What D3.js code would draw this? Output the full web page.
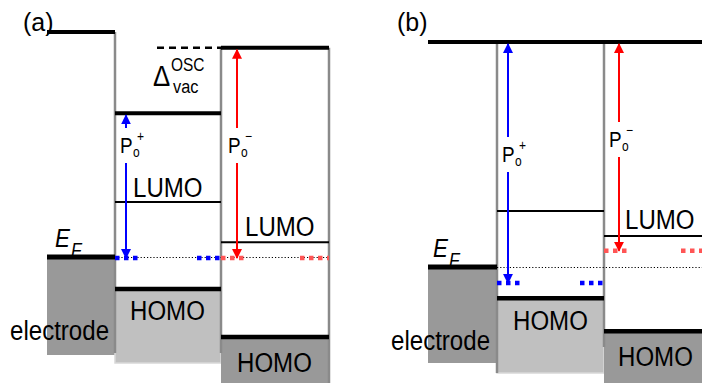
<!DOCTYPE html>
<html>
<head>
<meta charset="utf-8">
<script src="https://cdn.jsdelivr.net/npm/d3@7"></script>
<style>
  body { margin: 0; background: #fff; }
  svg text { font-family: "Liberation Sans", Arial, sans-serif; fill: #000; }
</style>
</head>
<body>
<div id="chart"></div>
<script>
// energy levels in eV, relative to the Fermi level of the electrode
// columns: electrode, organic layer 1, organic layer 2
var panelNames = ["(a)", "(b)"];
var vacA  = [5.0, 3.2, 4.65];
var lumoA = [null, 1.24, 0.35];
var homoA = [0, -0.71, -1.77];   // electrode entry = Fermi level
var pinA  = [0, 0];              // P+ (layer 1), P- (layer 2)
var vacB  = [5.0, 5.0, 5.0];
var lumoB = [null, 1.26, 0.71];
var homoB = [0, -0.69, -1.42];
var pinB  = [-0.33, 0.38];
var lumoLabelA = [false, true, true];
var lumoLabelB = [false, false, true];

var width = 702, height = 383;

var svg = d3.select("#chart").append("svg")
    .attr("width", width)
    .attr("height", height);

var defs = svg.append("defs");
[["blue", "#0000ff"], ["red", "#ff0000"]].forEach(function(c) {
  defs.append("marker")
      .attr("id", "head-" + c[0])
      .attr("viewBox", "0 0 10 10")
      .attr("refX", 9).attr("refY", 5)
      .attr("markerWidth", 5).attr("markerHeight", 5)
      .attr("orient", "auto-start-reverse")
      .attr("markerUnits", "strokeWidth")
    .append("path")
      .attr("d", "M0,0 L10,5 L0,10 Z")
      .attr("fill", c[1]);
});

// layout of the two panels
var panels = [
  { name: panelNames[0], vac: vacA, lumo: lumoA, homo: homoA, pin: pinA, lumoLabel: lumoLabelA,
    y: d3.scaleLinear().domain([0, 5]).range([258, 32]),
    cols: [47, 115, 221, 329], title: [23, 31],
    elecBottom: 355, lightBottom: 363, wallBottom: [353, 353, 383],
    arrowX: [126, 237], pLabel: [[120, 153], [228, 153]],
    efLabel: [55, 247], elecLabel: [10, 340],
    lumoText: [null, [133, 197], [245, 236]], homoText: [null, [130, 320], [237, 372]],
    dashed: [157, 221] },
  { name: panelNames[1], vac: vacB, lumo: lumoB, homo: homoB, pin: pinB, lumoLabel: lumoLabelB,
    y: d3.scaleLinear().domain([0, 5]).range([268, 42]),
    cols: [428, 497, 604, 712], title: [397, 31],
    elecBottom: 363, lightBottom: 373, wallBottom: [373, 347, 383],
    arrowX: [508, 619], pLabel: [[502, 162], [609, 147]],
    efLabel: [433, 257], elecLabel: [391, 350],
    lumoText: [null, null, [625, 229]], homoText: [null, [513, 330], [618, 366]],
    dashed: null }
];

function label(g, x, y, txt, size, italic, sx) {
  return g.append("text")
      .attr("transform", "translate(" + x + "," + y + ") scale(" + (sx || 0.86) + ",1)")
      .style("font-size", size + "px")
      .style("font-style", italic ? "italic" : "normal")
      .text(txt);
}

panels.forEach(function(p) {
  var g = svg.append("g");
  var y = p.y, c = p.cols;

  // filled blocks: electrode, occupied HOMO of layer 1 and layer 2
  g.append("rect").attr("x", c[0]).attr("y", y(p.homo[0]))
      .attr("width", c[1] - c[0]).attr("height", p.elecBottom - y(p.homo[0]))
      .attr("fill", "#999999");
  g.append("rect").attr("x", c[1]).attr("y", y(p.homo[1]))
      .attr("width", c[2] - c[1]).attr("height", p.lightBottom - y(p.homo[1]))
      .attr("fill", "#c0c0c0").attr("stroke", "#d8d8d8").attr("stroke-width", 1.5);
  g.append("rect").attr("x", c[2]).attr("y", y(p.homo[2]))
      .attr("width", c[3] - c[2]).attr("height", height - y(p.homo[2]))
      .attr("fill", "#999999");

  // column walls
  [1, 2, 3].forEach(function(i) {
    var top = y(p.vac[i - 1]);
    if (i === 2) top = Math.min(y(p.vac[1]), y(p.vac[2]));
    g.append("line")
        .attr("x1", c[i]).attr("x2", c[i])
        .attr("y1", top).attr("y2", p.wallBottom[i - 1])
        .attr("stroke", "#8a8a8a").attr("stroke-width", 2.5);
  });

  // Fermi level dotted reference
  g.append("line")
      .attr("x1", c[1]).attr("x2", c[3])
      .attr("y1", y(0) - 0.5).attr("y2", y(0) - 0.5)
      .attr("stroke", "#000").attr("stroke-width", 1)
      .attr("stroke-dasharray", "1.2,2");

  // vacuum levels
  p.vac.forEach(function(v, i) {
    g.append("line")
        .attr("x1", c[i]).attr("x2", c[i + 1])
        .attr("y1", y(v)).attr("y2", y(v))
        .attr("stroke", "#000").attr("stroke-width", 4);
  });
  if (p.dashed) {
    g.append("line")
        .attr("x1", p.dashed[0]).attr("x2", p.dashed[1])
        .attr("y1", y(p.vac[2])).attr("y2", y(p.vac[2]))
        .attr("stroke", "#000").attr("stroke-width", 2.5)
        .attr("stroke-dasharray", "7,5");
  }

  // LUMO levels
  p.lumo.forEach(function(v, i) {
    if (v === null) return;
    g.append("line")
        .attr("x1", c[i]).attr("x2", c[i + 1])
        .attr("y1", y(v)).attr("y2", y(v))
        .attr("stroke", "#000").attr("stroke-width", 2);
    if (p.lumoLabel[i]) label(g, p.lumoText[i][0], p.lumoText[i][1], "LUMO", 28);
  });

  // HOMO levels and electrode Fermi level
  p.homo.forEach(function(v, i) {
    g.append("line")
        .attr("x1", c[i]).attr("x2", c[i + 1])
        .attr("y1", y(v) - 1).attr("y2", y(v) - 1)
        .attr("stroke", "#000").attr("stroke-width", i === 0 ? 5 : 4.5);
    if (i > 0) label(g, p.homoText[i][0], p.homoText[i][1], "HOMO", 28);
  });

  // pinning levels P+ / P- (dotted squares at both sides of the layer)
  var pinColors = ["#0000ff", "#ff5555"];
  p.pin.forEach(function(v, k) {
    var x0 = c[k + 1], x1 = c[k + 2];
    var segs = [[x0, x0 + 26], [x1 - 24, x1]];
    if (k === 1 && p.name === "(a)") segs = [[x0, x0 + 26], [x1 - 29, x1]];
    if (k === 1 && p.name === "(b)") segs = [[x0, x0 + 26], [x0 + 77, x1]];
    segs.forEach(function(s) {
      g.append("line")
          .attr("x1", s[0]).attr("x2", s[1])
          .attr("y1", y(v)).attr("y2", y(v))
          .attr("stroke", pinColors[k]).attr("stroke-width", 4.5)
          .attr("stroke-dasharray", "4.5,4.5");
    });
  });

  // arrows from pinning level to the vacuum level
  var arrowColors = ["#0000ff", "#ff0000"];
  var names = ["blue", "red"];
  p.pin.forEach(function(v, k) {
    var x = p.arrowX[k];
    var top = y(p.vac[k + 1]) + 2;
    var gapTop = p.pLabel[k][1] - 25, gapBot = p.pLabel[k][1] + 10;
    g.append("line")
        .attr("x1", x).attr("x2", x).attr("y1", gapTop).attr("y2", top)
        .attr("stroke", arrowColors[k]).attr("stroke-width", 2)
        .attr("marker-end", "url(#head-" + names[k] + ")");
    g.append("line")
        .attr("x1", x).attr("x2", x).attr("y1", gapBot).attr("y2", y(v))
        .attr("stroke", arrowColors[k]).attr("stroke-width", 2)
        .attr("marker-end", "url(#head-" + names[k] + ")");
    var lx = p.pLabel[k][0], ly = p.pLabel[k][1];
    label(g, lx, ly, "P", 22);
    label(g, lx + 13, ly + 4, "o", 14);
    label(g, lx + 17, ly - 12, k === 0 ? "+" : "\u2212", 14);
  });

  // texts
  label(g, p.title[0], p.title[1], p.name, 25, false, 1);
  label(g, p.efLabel[0], p.efLabel[1], "E", 26, true);
  label(g, p.efLabel[0] + 16, p.efLabel[1] + 10, "F", 20, true);
  label(g, p.elecLabel[0], p.elecLabel[1], "electrode", 28);

  if (p.dashed) {
    label(g, 153, 86, "\u0394", 30);
    label(g, 171, 71, "OSC", 18);
    label(g, 173, 93, "vac", 19);
  }
});
</script>
</body>
</html>
